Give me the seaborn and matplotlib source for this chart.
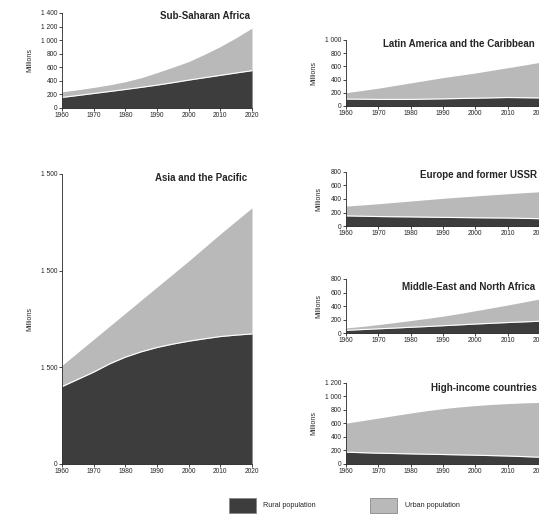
import matplotlib
matplotlib.use("Agg")
import matplotlib.pyplot as plt
from matplotlib.patches import Rectangle
import pandas as pd
import seaborn as sns

years = list(range(1960, 2021, 5))
decades = [1960, 1970, 1980, 1990, 2000, 2010, 2020]

# rural / total population, millions
ssa_rural = [155, 183, 213, 242, 272, 303, 336, 372, 410, 445, 480, 515, 549]
ssa_total = [237, 268, 302, 340, 386, 445, 520, 600, 683, 790, 905, 1035, 1177]
asia_rural = [800, 875, 950, 1035, 1105, 1160, 1205, 1240, 1270, 1295, 1318, 1333, 1345]
asia_total = [1020, 1155, 1290, 1425, 1560, 1695, 1830, 1965, 2100, 2240, 2380, 2515, 2650]
lac_rural = [105, 103, 100, 100, 100, 104, 108, 113, 118, 123, 128, 125, 122]
lac_total = [202, 235, 270, 310, 350, 390, 430, 465, 500, 540, 580, 620, 662]
eur_rural = [150, 145, 140, 137, 135, 131, 128, 125, 122, 120, 118, 113, 108]
eur_total = [295, 312, 330, 350, 370, 390, 410, 428, 445, 462, 478, 493, 508]
mena_rural = [40, 51, 62, 73, 85, 96, 108, 120, 133, 144, 155, 165, 175]
mena_total = [75, 98, 125, 154, 185, 216, 250, 288, 330, 372, 415, 460, 505]
hic_rural = [175, 167, 160, 155, 150, 145, 140, 135, 130, 124, 118, 109, 100]
hic_total = [605, 642, 680, 718, 755, 790, 820, 845, 865, 882, 895, 905, 912]

dark = "#3d3d3d"
light = "#b9b9b9"

sns.set_style("ticks")
plt.rcParams["font.family"] = ["Liberation Sans", "DejaVu Sans"]

fig = plt.figure(figsize=(5.39, 5.14), dpi=100)


def panel(rect, rural, total, title, yticks, ylabels, tx, ty):
    ax = fig.add_axes(rect)
    df = pd.DataFrame({"year": years, "rural": rural, "total": total})
    ax.fill_between(df["year"], 0, df["total"], color=light, lw=0)
    ax.fill_between(df["year"], 0, df["rural"], color=dark, lw=0)
    sns.lineplot(data=df, x="year", y="rural", color="white", lw=0.8, ax=ax)
    ax.set_xlim(1960, 2020)
    ax.set_ylim(yticks[0], yticks[-1])
    ax.set_xticks(decades)
    ax.set_xticklabels([str(y) for y in decades])
    ax.set_yticks(yticks)
    ax.set_yticklabels(ylabels)
    ax.tick_params(labelsize=4.8, length=2, width=0.6, pad=1)
    ax.set_xlabel("")
    ax.set_ylabel("Millions", fontsize=5, labelpad=6)
    for s in ("top", "right"):
        ax.spines[s].set_visible(False)
    for s in ("left", "bottom"):
        ax.spines[s].set_linewidth(0.6)
    ax.text(tx, ty, title, transform=ax.transAxes, ha="right", va="center",
            fontsize=7, fontweight="bold")
    return ax


def thousands(vals):
    return [f"{v:,}".replace(",", " ") for v in vals]


t1400 = [0, 200, 400, 600, 800, 1000, 1200, 1400]
panel([0.115, 0.790, 0.3525, 0.1848], ssa_rural, ssa_total,
      "Sub-Saharan Africa", t1400, thousands(t1400), 0.99, 0.968)

panel([0.115, 0.0973, 0.3525, 0.5642], asia_rural, asia_total,
      "Asia and the Pacific", [0, 1000, 2000, 3000],
      ["0", "1 500", "1 500", "1 500"], 0.974, 0.986)

t1000 = [0, 200, 400, 600, 800, 1000]
panel([0.642, 0.7938, 0.36, 0.1284], lac_rural, lac_total,
      "Latin America and the Caribbean", t1000, thousands(t1000), 0.974, 0.94)

t800 = [0, 200, 400, 600, 800]
panel([0.642, 0.5603, 0.36, 0.1051], eur_rural, eur_total,
      "Europe and former USSR", t800, thousands(t800), 0.985, 0.944)

panel([0.642, 0.3521, 0.36, 0.1051], mena_rural, mena_total,
      "Middle-East and North Africa", t800, thousands(t800), 0.974, 0.85)

t1200 = [0, 200, 400, 600, 800, 1000, 1200]
panel([0.642, 0.0973, 0.36, 0.1576], hic_rural, hic_total,
      "High-income countries", t1200, thousands(t1200), 0.985, 0.938)

# legend
W, H = 539, 514
for x0, col, label, tx in [(229, dark, "Rural population", 263),
                           (370, light, "Urban population", 405)]:
    fig.add_artist(Rectangle((x0 / W, 1 - 513 / H), 27 / W, 15 / H,
                             transform=fig.transFigure, facecolor=col,
                             edgecolor="#888888", lw=0.6))
    fig.text(tx / W, 1 - 505.5 / H, label, fontsize=5.2, va="center", ha="left")

fig.savefig("out.png", dpi=100)
